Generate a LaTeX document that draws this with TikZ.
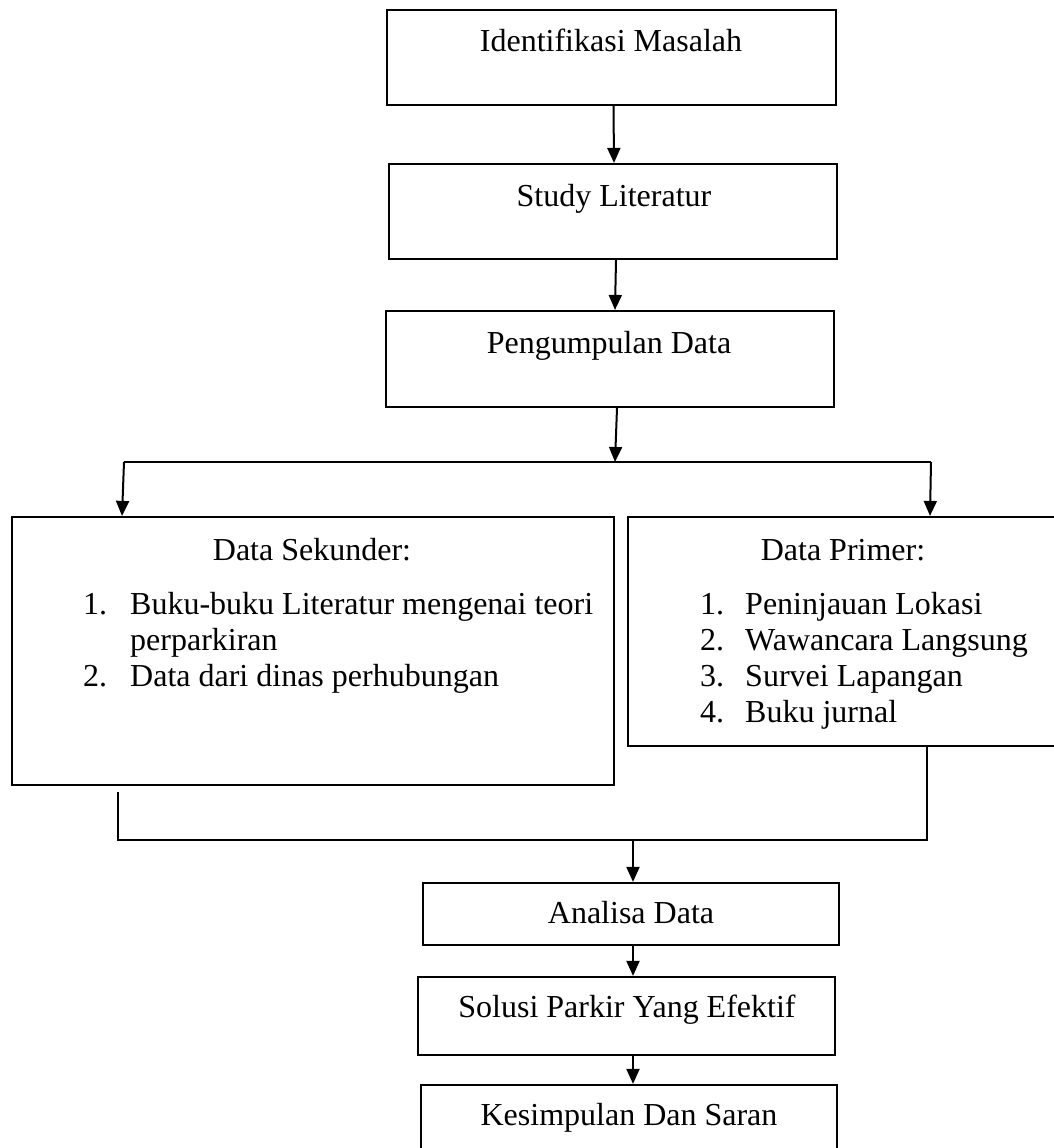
\documentclass[tikz,border=0pt]{standalone}
\usepackage{fontspec}
\setmainfont{Liberation Serif}
\usetikzlibrary{arrows.meta}
\tikzset{
  box/.style={draw=black, line width=2.2pt, rectangle, inner sep=0pt, fill=none},
  txt/.style={anchor=base, inner sep=0pt, font=\fontsize{32pt}{36pt}\selectfont},
  ltxt/.style={anchor=base west, inner sep=0pt, font=\fontsize{32pt}{36pt}\selectfont},
  conn/.style={line width=2pt},
  arr/.style={line width=2pt, -{Triangle[length=15pt,width=13pt]}}
}
\begin{document}
\begin{tikzpicture}[x=1pt,y=-1pt]
\useasboundingbox (0,0) rectangle (1054,1148);
\fill[white] (0,0) rectangle (1054,1148);
% boxes
\node[box, minimum width=449pt, minimum height=95pt] (b1) at (611.5,57.5) {};
\node[box, minimum width=448pt, minimum height=95pt] (b2) at (613,211.5) {};
\node[box, minimum width=448pt, minimum height=96pt] (b3) at (610,359) {};
\node[box, minimum width=602pt, minimum height=268pt] (bs) at (313,651) {};
\node[box, minimum width=440pt, minimum height=229pt] (bp) at (848,631.5) {};
\node[box, minimum width=416pt, minimum height=62pt] (an) at (631,914) {};
\node[box, minimum width=417pt, minimum height=78pt] (so) at (626.5,1016) {};
\node[box, minimum width=416pt, minimum height=80pt] (ks) at (629,1125) {};
% texts
\node[txt] (t1) at (611,52) {Identifikasi Masalah};
\node[txt] (t2) at (614,206) {Study Literatur};
\node[txt] (t3) at (609,353) {Pengumpulan Data};
\node[txt] (ts) at (312,560) {Data Sekunder:};
\node[ltxt] (s1n) at (83,614) {1.};
\node[ltxt] (s1) at (130,614) {Buku-buku Literatur mengenai teori};
\node[ltxt] (s1b) at (130,650) {perparkiran};
\node[ltxt] (s2n) at (83,686) {2.};
\node[ltxt] (s2) at (130,686) {Data dari dinas perhubungan};
\node[txt] (tp) at (843,560) {Data Primer:};
\node[ltxt] (p1n) at (700,614) {1.};
\node[ltxt] (p1) at (745,614) {Peninjauan Lokasi};
\node[ltxt] (p2n) at (700,650) {2.};
\node[ltxt] (p2) at (745,650) {Wawancara Langsung};
\node[ltxt] (p3n) at (700,686) {3.};
\node[ltxt] (p3) at (745,686) {Survei Lapangan};
\node[ltxt] (p4n) at (700,722) {4.};
\node[ltxt] (p4) at (745,722) {Buku jurnal};
\node[txt] (ta) at (631,923) {Analisa Data};
\node[txt] (tso) at (627,1017) {Solusi Parkir Yang Efektif};
\node[txt] (tk) at (629,1125) {Kesimpulan Dan Saran};
% connectors
\coordinate (sL) at (124,462);
\coordinate (sM) at (615,462);
\coordinate (sR) at (931,462);
\coordinate (jL) at (118,840);
\coordinate (jM) at (633,840);
\coordinate (jR) at (927,840);
\draw[arr] ([xshift=2pt]b1.south) -- ([xshift=1pt]b2.north);
\draw[arr] ([xshift=3pt]b2.south) -- ([xshift=5pt]b3.north);
\draw[arr] ([xshift=7pt]b3.south) -- (sM);
\draw[conn] (sL) -- (sR);
\draw[arr] (sL) -- ([xshift=-2pt]sL |- bs.north);
\draw[arr] (sR) -- ([xshift=-1pt]sR |- bp.north);
\draw[conn, line width=1.6pt] ([yshift=-6pt]bs.south -| jL) -- (jL) -- (jR) -- (jR |- bp.south);
\draw[arr] (jM) -- (jM |- an.north);
\draw[arr] (an.south -| jM) -- (so.north -| jM);
\draw[arr] (so.south -| jM) -- (ks.north -| jM);
\end{tikzpicture}
\end{document}
